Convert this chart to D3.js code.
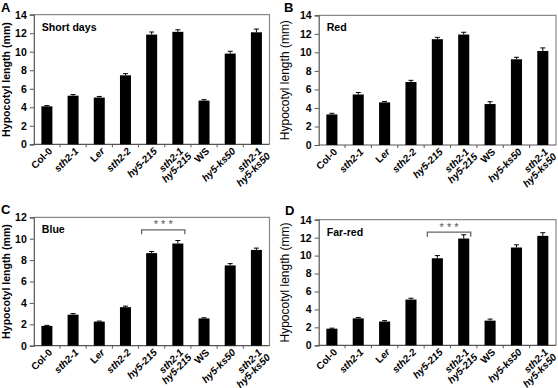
<!DOCTYPE html>
<html><head><meta charset="utf-8">
<script src="https://cdn.jsdelivr.net/npm/d3@7"></script>
<style>
body{margin:0;background:#fff;}
svg{display:block;font-family:"Liberation Sans",Arial,sans-serif;}
</style></head>
<body><svg id="c" width="558" height="388"></svg>
<script>
const categories = ["Col-0","sth2-1","Ler","sth2-2","hy5-215","sth2-1|hy5-215","WS","hy5-ks50","sth2-1|hy5-ks50"];
const panelLetters = ["A","B","C","D"];
const panelTitles = ["Short days","Red","Blue","Far-red"];
const yMaxes = [14,14,12,14];
const valuesA = [4.1,5.25,5.05,7.45,11.85,12.15,4.72,9.8,12.1];
const errorsA = [0.08,0.12,0.12,0.18,0.28,0.22,0.1,0.25,0.35];
const valuesB = [3.3,5.45,4.6,6.8,11.42,11.92,4.42,9.25,10.15];
const errorsB = [0.12,0.22,0.1,0.18,0.2,0.25,0.25,0.22,0.33];
const valuesC = [1.85,2.9,2.25,3.6,8.65,9.55,2.55,7.5,8.95];
const errorsC = [0.05,0.1,0.05,0.1,0.15,0.28,0.06,0.17,0.17];
const valuesD = [1.85,3.0,2.65,5.1,9.7,11.9,2.75,10.9,12.2];
const errorsD = [0.06,0.1,0.1,0.15,0.3,0.42,0.17,0.3,0.35];
const significance = [null,null,"* * *","* * *"];

const series = [[valuesA,errorsA],[valuesB,errorsB],[valuesC,errorsC],[valuesD,errorsD]];
const boxes = [
  {l:33.8,r:269.5,t:14.7,b:144.3,lx:1,ly:12,bold:true},
  {l:318.7,r:556,t:15.3,b:145,lx:284,ly:12,bold:false},
  {l:33.8,r:269.5,t:217.3,b:345.7,lx:1,ly:214,bold:true},
  {l:318.7,r:556,t:219.7,b:345.3,lx:285,ly:215,bold:false}
];
const svg = d3.select("#c");

function labelParts(s){
  if(s==="Col-0"||s==="WS") return [[s,false]];
  if(s==="Ler") return [["L",false],["er",true]];
  return [[s,true]];
}

boxes.forEach((bx,i)=>{
  const [vals,errs] = series[i];
  const g = svg.append("g");
  const x = d3.scaleBand().domain(categories).range([bx.l,bx.r]).paddingInner(0.58).paddingOuter(0.29);
  const y = d3.scaleLinear().domain([0,yMaxes[i]]).range([bx.b,bx.t]);

  g.append("path").attr("d",`M${bx.l},${bx.t}H${bx.r}V${bx.b}`).attr("fill","none").attr("stroke","#8a8a8a").attr("stroke-width",1.2);

  const ya = g.append("g").attr("transform",`translate(${bx.l},0)`)
    .call(d3.axisLeft(y).tickValues(d3.range(0,yMaxes[i]+0.1,2)).tickSize(4).tickPadding(3));
  ya.select(".domain").attr("stroke","#555").attr("stroke-width",1.2);
  ya.selectAll(".tick line").attr("stroke","#555");
  ya.selectAll("text").attr("font-size",10.5).attr("font-weight","bold").attr("fill","#000").attr("font-family","Liberation Sans, Arial, sans-serif");

  g.append("line").attr("x1",bx.l).attr("x2",bx.r).attr("y1",bx.b).attr("y2",bx.b).attr("stroke","#555").attr("stroke-width",1.2);
  const step = x.step();
  categories.forEach((c,k)=>{
    const xb = x(c)+x.bandwidth()/2 + step/2;
    if(k<categories.length-1)
      g.append("line").attr("x1",xb).attr("x2",xb).attr("y1",bx.b).attr("y2",bx.b+3).attr("stroke","#555");
  });

  g.selectAll("rect.bar").data(vals).enter().append("rect")
    .attr("x",(d,k)=>x(categories[k])).attr("width",x.bandwidth())
    .attr("y",d=>y(d)).attr("height",d=>bx.b-y(d)).attr("fill","#000");
  vals.forEach((d,k)=>{
    const cx = x(categories[k])+x.bandwidth()/2;
    const yt = y(d+errs[k]);
    g.append("line").attr("x1",cx).attr("x2",cx).attr("y1",y(d)).attr("y2",yt).attr("stroke","#000").attr("stroke-width",1);
    g.append("line").attr("x1",cx-2.5).attr("x2",cx+2.5).attr("y1",yt).attr("y2",yt).attr("stroke","#000").attr("stroke-width",1);
  });

  categories.forEach((c,k)=>{
    const cx = x(c)+x.bandwidth()/2 + 3.5;
    const t = g.append("text").attr("transform",`translate(${cx},${bx.b+5}) rotate(-45)`)
      .attr("text-anchor","end").attr("font-size",10).attr("font-weight","bold").attr("fill","#000");
    c.split("|").forEach((line,li)=>{
      labelParts(line).forEach((p,pi)=>{
        const ts = t.append("tspan").text(p[0]).attr("font-style",p[1]?"italic":"normal");
        if(pi===0){ ts.attr("x", li===0 ? 0 : 2.5).attr("dy", li===0? "0.35em" : "0.95em"); }
      });
    });
  });

  g.append("text").attr("transform",`translate(${bx.bold? bx.l-24 : bx.l-29.5},${(bx.t+bx.b)/2}) rotate(-90)`)
    .attr("text-anchor","middle").attr("font-size",bx.bold?10.6:12).attr("font-weight",bx.bold?"bold":"normal").text("Hypocotyl length (mm)");

  g.append("text").attr("x",bx.l+8).attr("y",bx.t+16).attr("font-size",10.6).attr("font-weight","bold").text(panelTitles[i]);
  g.append("text").attr("x",bx.lx).attr("y",bx.ly).attr("font-size",13).attr("font-weight","bold").text(panelLetters[i]);

  if(significance[i]){
    const x1 = x(categories[4])+x.bandwidth()/2-10;
    const x2 = x(categories[5])+x.bandwidth()/2+7;
    const yb = bx.t+12.5;
    g.append("path").attr("d",`M${x1},${yb+4.5}V${yb}H${x2}V${yb+4.5}`).attr("fill","none").attr("stroke","#666").attr("stroke-width",1.3);
    g.append("text").attr("x",(x1+x2)/2).attr("y",yb-1.5).attr("text-anchor","middle").attr("font-size",11).attr("fill","#555").text(significance[i]);
  }
});
</script></body></html>
